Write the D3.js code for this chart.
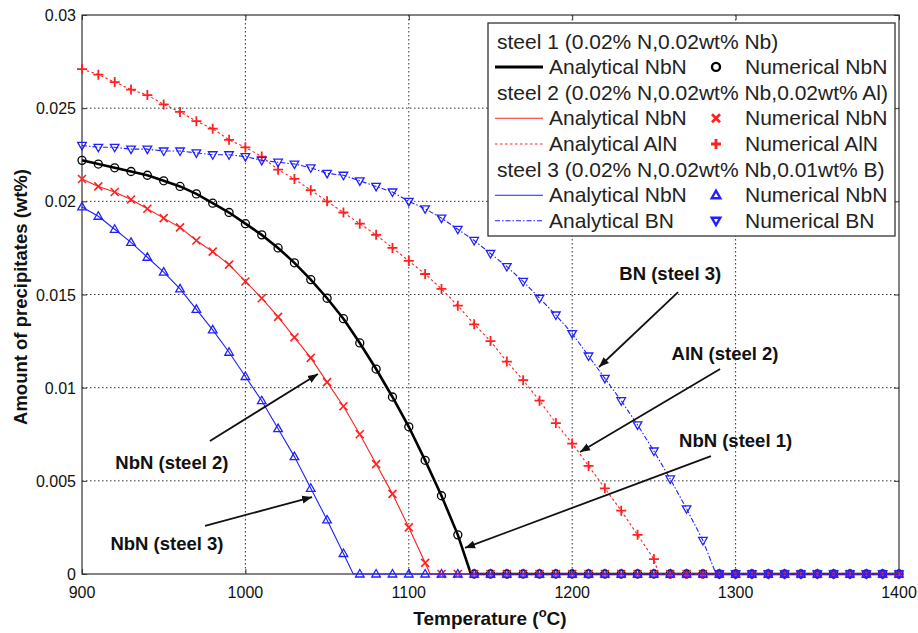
<!DOCTYPE html>
<html><head><meta charset="utf-8">
<script src="https://cdn.jsdelivr.net/npm/d3@7/dist/d3.min.js"></script>
<style>body{margin:0;background:#fff}svg{display:block}text{font-family:"Liberation Sans",Arial,sans-serif}</style>
</head><body><svg id="c" width="918" height="633"></svg>
<script>
// ---------------- data ----------------
const temps = [900,910,920,930,940,950,960,970,980,990,1000,1010,1020,1030,1040,1050,1060,1070,1080,1090,1100,
  1110,1120,1130,1140,1150,1160,1170,1180,1190,1200,1210,1220,1230,1240,1250,1260,1270,1280,1290,1300,
  1310,1320,1330,1340,1350,1360,1370,1380,1390,1400];
const nbnSteel1 = [0.0222,0.0220,0.0218,0.0216,0.0214,0.0211,0.0208,0.0204,0.0199,0.0194,0.0188,0.0182,0.0175,0.0167,0.0158,0.0148,0.0137,0.0124,0.0110,0.0095,0.0079,
  0.0061,0.0042,0.0021,0,0,0,0,0,0,0,0,0,0,0,0,0,0,0,0,0,0,0,0,0,0,0,0,0,0,0];
const nbnSteel2 = [0.0212,0.0208,0.0205,0.0201,0.0196,0.0191,0.0186,0.0179,0.0173,0.0166,0.0157,0.0148,0.0138,0.0127,0.0116,0.0103,0.0090,0.0075,0.0059,0.0043,0.0025,
  0.0006,0,0,0,0,0,0,0,0,0,0,0,0,0,0,0,0,0,0,0,0,0,0,0,0,0,0,0,0,0];
const alnSteel2 = [0.0271,0.0268,0.0264,0.0260,0.0257,0.0252,0.0248,0.0243,0.0239,0.0233,0.0229,0.0224,0.0217,0.0212,0.0206,0.0200,0.0194,0.0188,0.0182,0.0175,0.0168,
  0.0161,0.0153,0.0144,0.0134,0.0125,0.0114,0.0104,0.0093,0.0081,0.0070,0.0058,0.0046,0.0034,0.0021,0.0008,0,0,0,0,0,0,0,0,0,0,0,0,0,0,0];
const nbnSteel3 = [0.0197,0.0192,0.0185,0.0178,0.0170,0.0162,0.0153,0.0142,0.0131,0.0119,0.0106,0.0093,0.0078,0.0063,0.0046,0.0029,0.0011,0,0,0,0,
  0,0,0,0,0,0,0,0,0,0,0,0,0,0,0,0,0,0,0,0,0,0,0,0,0,0,0,0,0,0];
const bnSteel3 = [0.0230,0.0229,0.0229,0.0228,0.0228,0.0227,0.0227,0.0226,0.0225,0.0225,0.0224,0.0222,0.0221,0.0220,0.0218,0.0215,0.0214,0.0211,0.0208,0.0205,0.0200,
  0.0196,0.0191,0.0185,0.0179,0.0172,0.0165,0.0157,0.0148,0.0139,0.0129,0.0117,0.0105,0.0093,0.0080,0.0066,0.0051,0.0035,0.0018,0,0,0,0,0,0,0,0,0,0,0,0];
// temperature at which each analytical curve reaches zero (same order as seriesNames)
const seriesNames = ["NbN steel 1","NbN steel 2","AlN steel 2","NbN steel 3","BN steel 3"];
const solvusTemps = [1138, 1113, 1253, 1066, 1288];
const xTicks = [900,1000,1100,1200,1300,1400];
const yTicks = [0,0.005,0.01,0.015,0.02,0.025,0.03];
const yTickLabels = ["0","0.005","0.01","0.015","0.02","0.025","0.03"];
const legendRows = [
  {type:"head", text:"steel 1 (0.02% N,0.02wt% Nb)"},
  {type:"item", s:0, a:"Analytical NbN", n:"Numerical NbN"},
  {type:"head", text:"steel 2 (0.02% N,0.02wt% Nb,0.02wt% Al)"},
  {type:"item", s:1, a:"Analytical NbN", n:"Numerical NbN"},
  {type:"item", s:2, a:"Analytical AlN", n:"Numerical AlN"},
  {type:"head", text:"steel 3 (0.02% N,0.02wt% Nb,0.01wt% B)"},
  {type:"item", s:3, a:"Analytical NbN", n:"Numerical NbN"},
  {type:"item", s:4, a:"Analytical BN", n:"Numerical BN"}
];
const annLabels = ["BN (steel 3)","AlN (steel 2)","NbN (steel 1)","NbN (steel 2)","NbN (steel 3)"];
// label centre and arrow start/end in data units [T, wt%]
const annText = [[1260,0.01615],[1293.5,0.01186],[1300,0.00719],[955,0.00601],[952,0.00166]];
const annFrom = [[1264.8,0.01513],[1290.5,0.0110],[1284.9,0.00633],[978.3,0.00714],[975.3,0.00258]];
const annTo   = [[1216.4,0.01111],[1204.8,0.00655],[1134.4,0.0014],[1044.4,0.01073],[1040.8,0.00413]];

// ---------------- styles ----------------
const values = [nbnSteel1, nbnSteel2, alnSteel2, nbnSteel3, bnSteel3];
const styles = [
  {color:"#000", width:2.6, dash:null, marker:"o"},
  {color:"#ff2020", width:1.1, dash:null, marker:"x"},
  {color:"#ff2020", width:1.1, dash:"2.5,2.5", marker:"+"},
  {color:"#2020ff", width:1.1, dash:null, marker:"^"},
  {color:"#2020ff", width:1.1, dash:"5,2,1.5,2", marker:"v"}
];

const svg = d3.select("#c");
const L=82, R=899, T=15, B=574;
const x = d3.scaleLinear().domain([900,1400]).range([L,R]);
const y = d3.scaleLinear().domain([0,0.03]).range([B,T]);

svg.append("rect").attr("width",918).attr("height",633).attr("fill","#fff");

// grid
const g = svg.append("g");
g.selectAll(".gx").data(xTicks.slice(1,-1)).join("line")
  .attr("x1",d=>x(d)).attr("x2",d=>x(d)).attr("y1",T).attr("y2",B)
  .attr("stroke","#333").attr("stroke-width",1).attr("stroke-dasharray","1.5,2.5");
g.selectAll(".gy").data(yTicks.slice(1,-1)).join("line")
  .attr("y1",d=>y(d)).attr("y2",d=>y(d)).attr("x1",L).attr("x2",R)
  .attr("stroke","#333").attr("stroke-width",1).attr("stroke-dasharray","1.5,2.5");

// axes
function styleAxis(sel){ sel.select(".domain").remove(); sel.selectAll("line").attr("stroke","#333"); sel.selectAll("text").remove(); }
svg.append("g").attr("transform",`translate(0,${B})`).call(d3.axisBottom(x).tickValues(xTicks).tickSize(-5)).call(styleAxis);
svg.append("g").attr("transform",`translate(0,${T})`).call(d3.axisTop(x).tickValues(xTicks).tickSize(-5)).call(styleAxis);
svg.append("g").attr("transform",`translate(${L},0)`).call(d3.axisLeft(y).tickValues(yTicks).tickSize(-5)).call(styleAxis);
svg.append("g").attr("transform",`translate(${R},0)`).call(d3.axisRight(y).tickValues(yTicks).tickSize(-5)).call(styleAxis);
svg.append("rect").attr("x",L).attr("y",T).attr("width",R-L).attr("height",B-T)
  .attr("fill","none").attr("stroke","#333").attr("stroke-width",1.2);

svg.selectAll(".xl").data(xTicks).join("text").attr("x",d=>x(d)).attr("y",B+24)
  .attr("text-anchor","middle").attr("font-size",16).attr("fill","#111").text(d=>d);
svg.selectAll(".yl").data(yTicks).join("text").attr("x",L-6).attr("y",d=>y(d)+6)
  .attr("text-anchor","end").attr("font-size",16).attr("fill","#111").text((d,i)=>yTickLabels[i]);

// titles
const xt = svg.append("text").attr("x",490).attr("y",625).attr("text-anchor","middle")
  .attr("font-size",19).attr("font-weight","bold").attr("fill","#111");
xt.append("tspan").text("Temperature (");
xt.append("tspan").attr("font-size",13).attr("dy",-8).text("o");
xt.append("tspan").attr("dy",8).text("C)");
svg.append("text").attr("transform","translate(27,297) rotate(-90)").attr("text-anchor","middle")
  .attr("font-size",18.5).attr("font-weight","bold").attr("fill","#111").text("Amount of precipitates (wt%)");

// marker drawing
function marker(sel, type, color, sw){
  if(type==="o"){ sel.append("circle").attr("r",4).attr("fill","none").attr("stroke",color).attr("stroke-width",sw); }
  else if(type==="x"){ sel.append("path").attr("d","M-4,-4L4,4M-4,4L4,-4").attr("stroke",color).attr("stroke-width",sw+0.3); }
  else if(type==="+"){ sel.append("path").attr("d","M-5,0L5,0M0,-5L0,5").attr("stroke",color).attr("stroke-width",sw+0.5); }
  else if(type==="^"){ sel.append("path").attr("d","M0,-4.5L4.3,3L-4.3,3Z").attr("fill","none").attr("stroke",color).attr("stroke-width",sw); }
  else if(type==="v"){ sel.append("path").attr("d","M0,4.5L4.3,-3L-4.3,-3Z").attr("fill","none").attr("stroke",color).attr("stroke-width",sw); }
}

const line = d3.line().x(d=>x(d[0])).y(d=>y(d[1]));
const plot = svg.append("g");
values.forEach((vals,si)=>{
  const st = styles[si];
  const pts = [];
  temps.forEach((t,i)=>{ if(t < solvusTemps[si]) pts.push([t, vals[i]]); });
  pts.push([solvusTemps[si], 0]); pts.push([temps[temps.length-1], 0]);
  plot.append("path").datum(pts).attr("d",line).attr("fill","none")
    .attr("stroke",st.color).attr("stroke-width",st.width)
    .attr("stroke-dasharray",st.dash);
  temps.forEach((t,i)=>{
    const mg = plot.append("g").attr("transform",`translate(${x(t)},${y(vals[i])})`);
    marker(mg, st.marker, st.color, 1.3);
  });
});

// annotations
const defs = svg.append("defs");
defs.append("marker").attr("id","ah").attr("viewBox","0 0 10 10").attr("refX",10).attr("refY",5)
  .attr("markerWidth",10).attr("markerHeight",10).attr("markerUnits","userSpaceOnUse").attr("orient","auto")
  .append("path").attr("d","M0,1L10,5L0,9Z").attr("fill","#111");
annLabels.forEach((lab,i)=>{
  svg.append("line").attr("x1",x(annFrom[i][0])).attr("y1",y(annFrom[i][1]))
    .attr("x2",x(annTo[i][0])).attr("y2",y(annTo[i][1]))
    .attr("stroke","#111").attr("stroke-width",1.8).attr("marker-end","url(#ah)");
  svg.append("text").attr("x",x(annText[i][0])).attr("y",y(annText[i][1])+6.5)
    .attr("text-anchor","middle").attr("font-size",18.5).attr("font-weight","bold").attr("fill","#111").text(lab);
});

// legend
const lg = svg.append("g");
lg.append("rect").attr("x",488).attr("y",23).attr("width",407).attr("height",213)
  .attr("fill","#fff").attr("stroke","#333").attr("stroke-width",1.3);
const rowY = [41.7,66.9,92.9,118.2,144.0,169.6,195.2,220.7];
legendRows.forEach((r,i)=>{
  const cy = rowY[i];
  if(r.type==="head"){
    lg.append("text").attr("x",497).attr("y",cy+7).attr("font-size",21).attr("fill","#222").text(r.text);
  } else {
    const st = styles[r.s];
    lg.append("line").attr("x1",495).attr("x2",543).attr("y1",cy).attr("y2",cy)
      .attr("stroke",st.color).attr("stroke-width",r.s===0?3:1.1).attr("stroke-dasharray",st.dash);
    lg.append("text").attr("x",549).attr("y",cy+7).attr("font-size",21).attr("fill","#222").text(r.a);
    const mg = lg.append("g").attr("transform",`translate(716,${cy})`);
    marker(mg, st.marker, st.color, 2.4);
    lg.append("text").attr("x",745).attr("y",cy+7).attr("font-size",21).attr("fill","#222").text(r.n);
  }
});
</script></body></html>
